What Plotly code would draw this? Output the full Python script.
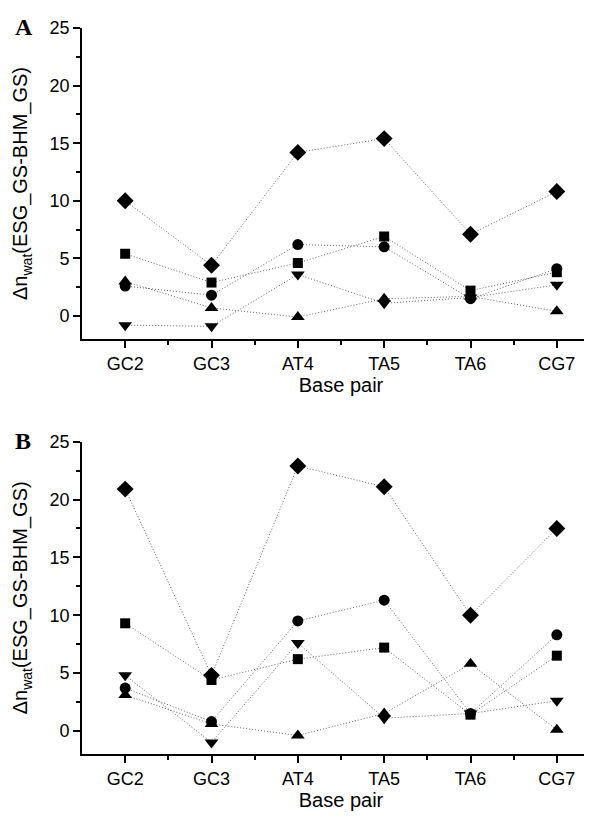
import plotly.graph_objects as go

categories = ["GC2", "GC3", "AT4", "TA5", "TA6", "CG7"]

# Panel A
a_diamond = [10.0, 4.4, 14.2, 15.4, 7.1, 10.8]
a_square = [5.4, 2.9, 4.6, 6.9, 2.2, 3.8]
a_circle = [2.6, 1.8, 6.2, 6.0, 1.5, 4.1]
a_up = [3.0, 0.7, -0.1, 1.5, 1.7, 0.4]
a_down = [-0.8, -0.9, 3.6, 1.1, 1.6, 2.7]

# Panel B
b_diamond = [20.9, 4.8, 22.9, 21.1, 10.0, 17.5]
b_square = [9.3, 4.4, 6.2, 7.2, 1.4, 6.5]
b_circle = [3.7, 0.8, 9.5, 11.3, 1.5, 8.3]
b_up = [3.1, 0.6, -0.4, 1.5, 5.8, 0.1]
b_down = [4.8, -1.0, 7.6, 1.1, 1.5, 2.6]

y_ticks = [0, 5, 10, 15, 20, 25]

W, H = 592, 818
OFF = 8  # page body margin offset
xpos = list(range(len(categories)))

series_style = [
    ("diamond", 13),
    ("square", 10),
    ("circle", 11),
    ("triangle-up", 12),
    ("triangle-down", 12),
]

fig = go.Figure()

def add_panel(data, xa, ya):
    for vals, (sym, sz) in zip(data, series_style):
        fig.add_trace(go.Scatter(
            x=xpos, y=vals, mode="lines+markers",
            line=dict(color="#666666", width=1, dash="1px,2px"),
            marker=dict(symbol=sym, size=sz, color="black"),
            xaxis=xa, yaxis=ya, showlegend=False, hoverinfo="skip",
        ))

add_panel([a_diamond, a_square, a_circle, a_up, a_down], "x", "y")
add_panel([b_diamond, b_square, b_circle, b_up, b_down], "x2", "y2")

tick_font = dict(family="Liberation Sans, Arial, sans-serif", size=18, color="black")
title_font = dict(family="Liberation Sans, Arial, sans-serif", size=20, color="black")

def xaxis_cfg(anchor):
    return dict(
        domain=[(82 - OFF) / W, 1.0], anchor=anchor, automargin=False,
        range=[-0.5, 5.5],
        tickmode="array", tickvals=xpos, ticktext=categories,
        ticks="outside", ticklen=7, tickwidth=1.5, tickcolor="black",
        minor=dict(tickvals=[0.5, 1.5, 2.5, 3.5, 4.5], ticks="outside",
                   ticklen=4, tickwidth=1.5, tickcolor="black"),
        showline=True, linewidth=1.8, linecolor="black",
        showgrid=False, zeroline=False,
        tickfont=tick_font,
        title=dict(text="Base pair", font=title_font, standoff=4),
    )

def yaxis_cfg(anchor, top_px, bottom_px):
    return dict(
        domain=[1 - (bottom_px - OFF) / H, 1 - (top_px - OFF) / H], anchor=anchor, automargin=False,
        range=[-2, 25],
        tickmode="array", tickvals=y_ticks,
        ticks="outside", ticklen=7, tickwidth=1.5, tickcolor="black",
        minor=dict(tickvals=[2.5, 7.5, 12.5, 17.5, 22.5], ticks="outside",
                   ticklen=4, tickwidth=1.5, tickcolor="black"),
        showline=True, linewidth=1.8, linecolor="black",
        showgrid=False, zeroline=False,
        tickfont=tick_font,
        title=dict(text="Δn<sub>wat</sub>(ESG_GS-BHM_GS)", font=title_font, standoff=16),
    )

fig.update_layout(
    width=W, height=H,
    margin=dict(l=0, r=0, t=0, b=0, autoexpand=False),
    paper_bgcolor="white", plot_bgcolor="white",
    xaxis=xaxis_cfg("y"),
    yaxis=yaxis_cfg("x", 28, 339),
    xaxis2=xaxis_cfg("y2"),
    yaxis2=yaxis_cfg("x2", 441.7, 754),
    annotations=[
        dict(text="<b>A</b>", x=(13 - OFF) / W, y=1 - (27 - OFF) / H, xref="paper", yref="paper",
             xanchor="left", yanchor="middle", showarrow=False,
             font=dict(family="Liberation Serif, Times New Roman, serif", size=24, color="black")),
        dict(text="<b>B</b>", x=(13 - OFF) / W, y=1 - (441 - OFF) / H, xref="paper", yref="paper",
             xanchor="left", yanchor="middle", showarrow=False,
             font=dict(family="Liberation Serif, Times New Roman, serif", size=24, color="black")),
    ],
)

fig.write_html("out.html")
